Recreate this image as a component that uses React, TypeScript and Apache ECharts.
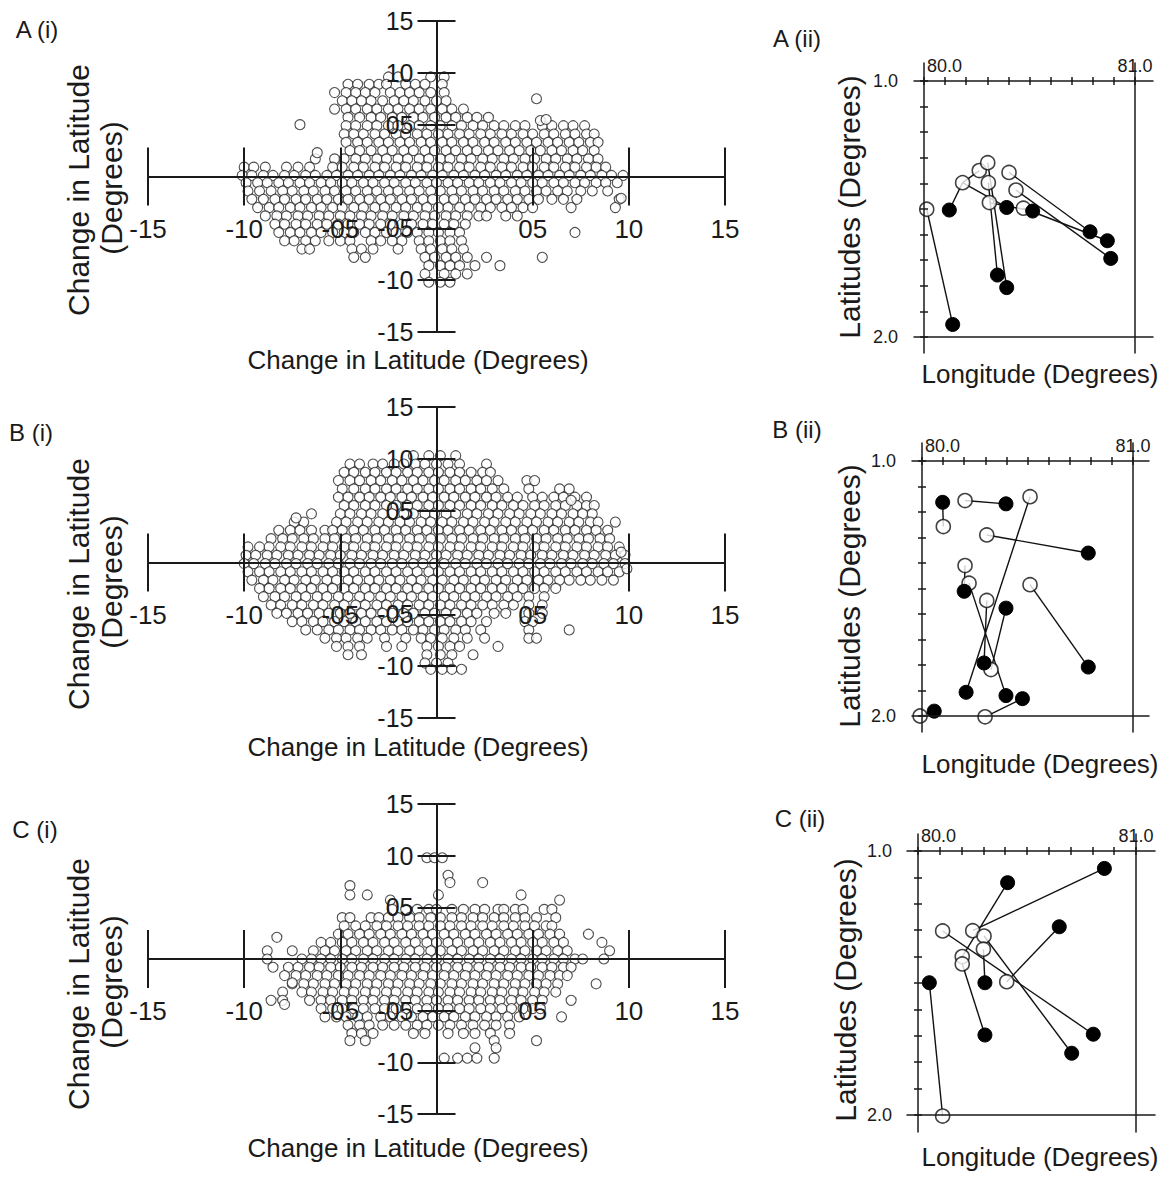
import React, { useEffect, useRef } from 'react';
import * as echarts from 'echarts';

const FONT = '"Liberation Sans", Arial, Helvetica, sans-serif';
const INK = '#1a1a1a';

// ---- tick labels ----
const DELTA_TICKS = [-15, -10, -5, 5, 10, 15];
const DELTA_LABELS = ['-15', '-10', '-05', '05', '10', '15'];
const LON_TICKS = [80.0, 80.1, 80.2, 80.3, 80.4, 80.5, 80.6, 80.7, 80.8, 80.9, 81.0];
const LAT_TICKS = [1.0, 1.1, 1.2, 1.3, 1.4, 1.5, 1.6, 1.7, 1.8, 1.9, 2.0];
const LON_LABELS = [80.0, 81.0];
const LAT_LABELS = [1.0, 2.0];

// ---- scatter clouds: each row = [y, x, x, x, ...] (axis units) ----
const A_ROWS: number[][] = [
  [9.6, -2.5, -2.0, -0.3, 0.4],
  [8.9, -4.6, -4.1, -3.5, -3.0, -2.6, -1.6, -1.1, -0.6, 0.3],
  [8.1, -5.3, -4.7, -4.2, -3.7, -3.2, -2.4, -1.9, -1.4, -0.9, -0.3, 0.4],
  [7.3, -4.9, -4.4, -3.9, -3.4, -2.8, -2.2, -1.7, -1.2, -0.6, 0.0, 0.5],
  [6.5, -5.3, -4.7, -4.2, -3.6, -3.1, -2.5, -2.0, -1.4, -0.9, -0.3, 0.3, 0.8, 1.4],
  [5.7, -4.6, -4.0, -3.4, -2.9, -2.3, -1.8, -1.2, -0.7, -0.1, 0.5, 1.0, 1.6, 2.1, 2.7],
  [4.9, -4.7, -4.2, -3.6, -3.1, -2.5, -2.0, -1.4, -0.9, -0.3, 0.2, 0.8, 1.3, 1.9, 2.4, 3.0, 3.5, 4.1, 4.6, 5.5, 6.0, 6.6, 7.1, 7.7],
  [4.1, -4.8, -4.3, -3.8, -3.2, -2.7, -2.1, -1.6, -1.0, -0.5, 0.1, 0.6, 1.2, 1.7, 2.3, 2.8, 3.4, 3.9, 4.5, 5.0, 5.6, 6.1, 6.7, 7.2, 7.8, 8.2],
  [3.3, -4.7, -4.1, -3.6, -3.0, -2.5, -1.9, -1.4, -0.8, -0.3, 0.3, 0.8, 1.4, 1.9, 2.5, 3.0, 3.6, 4.1, 4.7, 5.2, 5.8, 6.3, 6.9, 7.4, 8.0, 8.4],
  [2.5, -4.5, -4.0, -3.4, -2.8, -2.3, -1.7, -1.2, -0.6, -0.1, 0.5, 1.0, 1.6, 2.1, 2.7, 3.2, 3.8, 4.3, 4.9, 5.4, 6.0, 6.5, 7.1, 7.6, 8.2],
  [1.7, -6.3, -5.3, -4.8, -4.2, -3.7, -3.1, -2.6, -2.0, -1.5, -0.9, -0.4, 0.2, 0.7, 1.3, 1.8, 2.4, 2.9, 3.5, 4.0, 4.6, 5.1, 5.7, 6.2, 6.8, 7.3, 7.9, 8.4],
  [0.9, -10.0, -9.5, -8.9, -7.8, -7.2, -6.6, -5.4, -4.9, -4.3, -3.8, -3.2, -2.7, -2.1, -1.6, -1.0, -0.5, 0.1, 0.6, 1.2, 1.7, 2.3, 2.8, 3.4, 3.9, 4.5, 5.0, 5.6, 6.1, 6.7, 7.2, 7.8, 8.3, 8.8],
  [0.1, -10.1, -9.6, -9.0, -8.5, -7.9, -7.4, -6.8, -6.3, -5.7, -5.2, -4.6, -4.1, -3.5, -3.0, -2.4, -1.9, -1.3, -0.8, -0.2, 0.3, 0.9, 1.4, 2.0, 2.5, 3.1, 3.6, 4.2, 4.7, 5.3, 5.8, 6.4, 6.9, 7.5, 8.0, 8.6, 9.1, 9.7],
  [-0.6, -9.9, -9.3, -8.8, -8.2, -7.7, -7.1, -6.6, -6.0, -5.5, -4.9, -4.4, -3.8, -3.3, -2.7, -2.2, -1.6, -1.1, -0.5, 0.0, 0.6, 1.1, 1.7, 2.2, 2.8, 3.3, 3.9, 4.4, 5.0, 5.5, 6.1, 6.6, 7.2, 7.7, 8.3, 8.8, 9.4],
  [-1.4, -9.8, -9.2, -8.6, -8.0, -7.5, -6.9, -6.4, -5.8, -5.3, -4.7, -4.2, -3.6, -3.1, -2.5, -2.0, -1.4, -0.9, -0.3, 0.2, 0.8, 1.3, 1.9, 2.4, 3.0, 3.5, 4.1, 4.6, 5.2, 5.7, 6.3, 6.8, 7.5, 8.1, 8.9],
  [-2.2, -9.6, -9.0, -8.4, -7.9, -7.3, -6.8, -6.2, -5.7, -5.1, -4.6, -4.0, -3.5, -2.9, -2.4, -1.8, -1.3, -0.7, -0.2, 0.4, 0.9, 1.5, 2.0, 2.6, 3.1, 3.7, 4.2, 4.8, 5.3, 6.0, 6.6, 7.3, 9.5],
  [-3.0, -9.3, -8.7, -8.2, -7.6, -7.1, -6.5, -6.0, -5.4, -4.9, -4.3, -3.8, -3.2, -2.7, -2.1, -1.6, -1.0, -0.5, 0.1, 0.6, 1.2, 1.7, 2.3, 2.8, 3.4, 3.9, 4.5, 5.0, 7.0, 9.3],
  [-3.8, -8.9, -8.3, -7.8, -7.2, -6.7, -6.1, -5.6, -5.0, -4.5, -3.9, -3.4, -2.8, -2.3, -1.7, -1.2, -0.6, -0.1, 0.5, 1.0, 1.6, 2.2, 2.6, 3.6, 4.2],
  [-4.6, -8.4, -7.9, -7.3, -6.8, -6.2, -5.7, -5.1, -4.6, -4.0, -3.5, -2.9, -2.4, -1.8, -1.3, -0.7, -0.2, 0.4, 0.9, 1.5],
  [-5.4, -8.2, -7.6, -7.1, -6.5, -6.0, -5.4, -4.8, -4.3, -3.7, -3.2, -2.6, -2.1, -1.5, -1.0, -0.4, 0.1, 0.7, 1.2, 7.2],
  [-6.2, -7.9, -7.4, -6.8, -6.3, -5.6, -5.0, -4.5, -3.4, -2.9, -2.3, -1.8, -0.9, -0.4, 0.2, 0.7, 1.3],
  [-7.0, -7.0, -6.6, -4.4, -3.9, -3.3, -2.0, -0.8, -0.3, 0.3, 0.8, 1.4],
  [-7.8, -4.3, -3.7, -0.6, -0.1, 0.5, 1.0, 1.6, 2.6, 5.5],
  [-8.6, -0.4, 0.2, 0.7, 1.2, 2.0, 3.3],
  [-9.4, -0.6, 0.4, 1.0, 1.6],
  [-10.2, -0.4, 0.2, 0.7],
];
const A_SINGLES: number[][] = [[-7.1, 5.0], [5.2, 7.5], [5.4, 5.4], [5.7, 5.5], [9.6, -2.1], [-6.2, 2.3]];

const B_ROWS: number[][] = [
  [10.3, -1.2, -0.4, 0.2, 1.0],
  [9.5, -4.5, -4.0, -3.3, -2.8, -2.2, -1.7, -1.1, -0.6, 0.0, 0.6, 1.2, 2.6],
  [8.7, -4.8, -4.3, -3.7, -3.2, -2.6, -2.1, -1.5, -1.0, -0.4, 0.1, 0.7, 1.2, 1.8, 2.4, 2.8],
  [7.9, -5.1, -4.5, -4.0, -3.4, -2.9, -2.3, -1.8, -1.2, -0.7, -0.1, 0.4, 1.0, 1.5, 2.1, 2.6, 3.2, 4.7, 5.1],
  [7.1, -4.9, -4.3, -3.7, -3.2, -2.6, -2.1, -1.5, -1.0, -0.4, 0.1, 0.7, 1.2, 1.8, 2.3, 2.9, 3.5, 4.8, 6.4, 6.9],
  [6.3, -5.1, -4.6, -4.0, -3.5, -2.9, -2.4, -1.8, -1.3, -0.7, -0.2, 0.4, 0.9, 1.5, 2.0, 2.6, 3.1, 3.7, 4.2, 5.0, 5.5, 6.1, 6.6, 7.2, 7.8],
  [5.5, -4.8, -4.3, -3.7, -3.2, -2.6, -2.1, -1.5, -1.0, -0.4, 0.1, 0.7, 1.2, 1.8, 2.3, 2.9, 3.4, 4.0, 4.5, 5.1, 5.6, 6.2, 6.7, 7.3, 7.8, 8.2],
  [4.7, -5.0, -4.5, -3.9, -3.4, -2.8, -2.3, -1.7, -1.2, -0.6, -0.1, 0.5, 1.0, 1.6, 2.1, 2.7, 3.2, 3.8, 4.3, 4.9, 5.4, 6.0, 6.5, 7.1, 7.6, 8.1],
  [3.9, -7.4, -6.9, -5.2, -4.7, -4.1, -3.6, -3.0, -2.5, -1.9, -1.4, -0.8, -0.3, 0.3, 0.8, 1.4, 1.9, 2.5, 3.0, 3.6, 4.1, 4.7, 5.2, 5.8, 6.3, 6.9, 7.4, 8.0, 8.4, 9.3],
  [3.1, -8.2, -7.6, -7.1, -6.5, -5.8, -5.4, -4.9, -4.3, -3.8, -3.2, -2.7, -2.1, -1.6, -1.0, -0.5, 0.1, 0.6, 1.2, 1.7, 2.3, 2.8, 3.4, 3.9, 4.5, 5.0, 5.6, 6.1, 6.7, 7.2, 7.8, 8.3, 8.9],
  [2.3, -8.6, -8.0, -7.5, -6.9, -6.4, -5.8, -5.3, -4.7, -4.2, -3.6, -3.1, -2.5, -2.0, -1.4, -0.9, -0.3, 0.2, 0.8, 1.3, 1.9, 2.4, 3.0, 3.5, 4.1, 4.6, 5.2, 5.7, 6.3, 6.8, 7.4, 7.9, 8.5, 9.0],
  [1.5, -9.8, -9.2, -8.7, -8.1, -7.6, -7.0, -6.5, -5.9, -5.4, -4.8, -4.3, -3.7, -3.2, -2.6, -2.1, -1.5, -1.0, -0.4, 0.1, 0.7, 1.2, 1.8, 2.3, 2.9, 3.4, 4.0, 4.5, 5.1, 5.6, 6.2, 6.7, 7.3, 7.8, 8.4, 8.9, 9.5],
  [0.7, -9.9, -9.4, -8.8, -8.3, -7.7, -7.2, -6.6, -6.1, -5.5, -5.0, -4.4, -3.9, -3.3, -2.8, -2.2, -1.7, -1.1, -0.6, 0.0, 0.5, 1.1, 1.6, 2.2, 2.7, 3.3, 3.8, 4.4, 4.9, 5.5, 6.0, 6.6, 7.1, 7.7, 8.2, 8.8, 9.3, 9.8],
  [-0.1, -10.0, -9.5, -8.9, -8.4, -7.8, -7.3, -6.7, -6.2, -5.6, -5.1, -4.5, -4.0, -3.4, -2.9, -2.3, -1.8, -1.2, -0.7, -0.1, 0.4, 1.0, 1.5, 2.1, 2.6, 3.2, 3.7, 4.3, 4.8, 5.4, 5.9, 6.5, 7.0, 7.6, 8.1, 8.7, 9.2, 9.8],
  [-0.9, -9.8, -9.2, -8.7, -8.1, -7.6, -7.0, -6.5, -5.9, -5.4, -4.8, -4.3, -3.7, -3.2, -2.6, -2.1, -1.5, -1.0, -0.4, 0.1, 0.7, 1.2, 1.8, 2.3, 2.9, 3.4, 4.0, 4.5, 5.1, 5.6, 6.2, 6.7, 7.3, 7.8, 8.4, 8.9, 9.5],
  [-1.7, -9.6, -9.0, -8.5, -7.9, -7.4, -6.8, -6.3, -5.7, -5.2, -4.6, -4.1, -3.5, -3.0, -2.4, -1.9, -1.3, -0.8, -0.2, 0.3, 0.9, 1.4, 2.0, 2.5, 3.1, 3.6, 4.2, 4.7, 5.3, 5.8, 6.4, 6.9, 7.5, 8.0, 8.6, 9.2],
  [-2.5, -9.2, -8.7, -8.1, -7.6, -7.0, -6.5, -5.9, -5.4, -4.8, -4.3, -3.7, -3.2, -2.6, -2.1, -1.5, -1.0, -0.4, 0.1, 0.7, 1.2, 1.8, 2.3, 2.9, 3.4, 4.0, 4.5, 5.1, 5.6, 6.2],
  [-3.3, -9.0, -8.4, -7.9, -7.3, -6.8, -6.2, -5.7, -5.1, -4.6, -4.0, -3.5, -2.9, -2.4, -1.8, -1.3, -0.7, -0.2, 0.4, 0.9, 1.5, 2.0, 2.6, 3.1, 3.7, 4.2, 4.8, 5.6],
  [-4.1, -8.6, -8.1, -7.5, -7.0, -6.4, -5.9, -5.3, -4.8, -4.2, -3.7, -3.1, -2.6, -2.0, -1.5, -0.9, -0.4, 0.2, 0.7, 1.3, 1.8, 2.4, 2.9, 3.5, 4.0, 4.8, 5.5],
  [-4.9, -8.3, -7.8, -7.2, -6.7, -6.1, -5.6, -5.0, -4.5, -3.9, -3.4, -2.8, -2.3, -1.7, -1.2, -0.6, -0.1, 0.5, 1.0, 1.6, 2.1, 3.0, 3.6, 4.8, 5.5],
  [-5.7, -7.5, -7.0, -6.4, -5.9, -5.3, -4.8, -4.2, -3.7, -3.1, -2.6, -2.0, -1.5, -0.9, -0.4, 0.2, 0.7, 1.3, 1.8, 2.6, 4.6, 5.0],
  [-6.5, -6.8, -6.2, -5.6, -5.1, -4.5, -4.0, -3.4, -2.9, -2.3, -1.8, -1.2, -0.7, -0.1, 0.4, 1.0, 1.5, 2.3, 4.8, 6.9],
  [-7.3, -5.8, -5.2, -4.7, -4.1, -3.6, -2.7, -1.6, -0.8, -0.3, 0.3, 0.9, 1.6, 2.5, 4.8, 5.2],
  [-8.1, -5.2, -4.6, -4.0, -2.6, -1.8, -0.5, 0.1, 0.7, 1.2, 3.2],
  [-8.9, -4.6, -3.9, -0.5, 0.2, 0.8, 1.9],
  [-9.7, -0.6, 0.0, 0.6],
  [-10.3, -0.3, 0.3, 0.8, 1.3],
];
const B_SINGLES: number[][] = [[-7.3, 4.3], [-6.5, 4.7], [9.6, 1.0], [9.9, -0.6], [7.0, 6.0]];

const C_ROWS: number[][] = [
  [9.8, -0.5, -0.1, 0.3],
  [8.1, 0.6],
  [7.4, 0.7, 2.4],
  [7.1, -4.5],
  [6.2, -4.5, -3.6, 0.1, 4.4],
  [5.7, -2.4, 6.4],
  [4.8, -2.3, -1.6, -1.0, -0.4, 0.0, 0.8, 1.4, 2.0, 2.5, 3.2, 3.5, 4.1, 4.5, 5.6, 6.0],
  [4.0, -4.9, -4.5, -3.4, -3.0, -2.5, -2.0, -1.4, -0.9, -0.3, 0.2, 0.8, 1.3, 1.9, 2.4, 3.0, 3.5, 4.1, 4.6, 5.2, 6.2],
  [3.2, -4.8, -4.2, -3.7, -3.1, -2.6, -2.0, -1.5, -0.9, -0.4, 0.2, 0.7, 1.3, 1.8, 2.4, 2.9, 3.5, 4.0, 4.6, 5.1, 5.7, 6.0],
  [2.4, -5.1, -4.6, -4.0, -3.5, -2.9, -2.4, -1.8, -1.3, -0.7, -0.2, 0.4, 0.9, 1.5, 2.0, 2.6, 3.1, 3.7, 4.2, 4.8, 5.3, 5.9, 6.4, 7.9],
  [1.6, -6.0, -5.5, -4.9, -4.4, -3.8, -3.3, -2.7, -2.2, -1.6, -1.1, -0.5, 0.0, 0.6, 1.1, 1.7, 2.2, 2.8, 3.3, 3.9, 4.4, 5.0, 5.5, 6.1, 6.6, 8.6],
  [0.8, -8.8, -7.5, -6.4, -5.8, -5.3, -4.7, -4.2, -3.6, -3.1, -2.5, -2.0, -1.4, -0.9, -0.3, 0.2, 0.8, 1.3, 1.9, 2.4, 3.0, 3.5, 4.1, 4.6, 5.2, 5.7, 6.3, 6.8, 9.0],
  [0.0, -8.8, -7.0, -6.5, -6.0, -5.5, -4.9, -4.4, -3.8, -3.3, -2.7, -2.2, -1.6, -1.1, -0.5, 0.0, 0.6, 1.1, 1.7, 2.2, 2.8, 3.3, 3.9, 4.4, 5.0, 5.5, 6.1, 6.6, 7.2, 7.6, 8.7],
  [-0.8, -8.5, -7.7, -7.2, -6.6, -6.1, -5.5, -5.0, -4.4, -3.9, -3.3, -2.8, -2.2, -1.7, -1.1, -0.6, 0.0, 0.5, 1.1, 1.6, 2.2, 2.7, 3.3, 3.8, 4.4, 4.9, 5.5, 6.0, 6.6, 7.0],
  [-1.6, -7.9, -7.3, -6.8, -6.2, -5.7, -5.1, -4.6, -4.0, -3.5, -2.9, -2.4, -1.8, -1.3, -0.7, -0.2, 0.4, 0.9, 1.5, 2.0, 2.6, 3.1, 3.7, 4.2, 4.8, 5.3, 5.9, 6.4, 6.8],
  [-2.4, -7.5, -6.9, -6.4, -5.8, -5.3, -4.7, -4.2, -3.6, -3.1, -2.5, -2.0, -1.4, -0.9, -0.3, 0.2, 0.8, 1.3, 1.9, 2.4, 3.0, 3.5, 4.1, 4.6, 5.2, 5.7, 6.3, 8.3],
  [-3.2, -8.0, -7.0, -6.5, -5.9, -5.4, -4.8, -4.3, -3.7, -3.2, -2.6, -2.1, -1.5, -1.0, -0.4, 0.1, 0.7, 1.2, 1.8, 2.3, 2.9, 3.4, 4.0, 4.5, 5.1, 5.6, 6.2],
  [-4.0, -8.6, -8.0, -6.6, -6.0, -5.5, -4.9, -4.4, -3.8, -3.3, -2.7, -2.2, -1.6, -1.1, -0.5, 0.0, 0.6, 1.1, 1.7, 2.2, 2.8, 3.3, 3.9, 4.4, 5.0, 5.5, 7.0],
  [-4.8, -6.0, -5.4, -4.9, -4.3, -3.8, -3.2, -2.7, -2.1, -1.6, -1.0, -0.5, 0.1, 0.6, 1.2, 1.7, 2.3, 2.8, 3.4, 3.9, 4.5, 5.0, 5.4],
  [-5.6, -5.8, -5.2, -4.7, -4.1, -3.6, -2.9, -2.4, -1.8, -1.3, -0.7, -0.2, 0.4, 0.9, 1.5, 2.0, 2.6, 3.1, 3.7, 4.3, 6.5],
  [-6.4, -4.6, -4.0, -3.5, -2.8, -2.2, -1.6, -1.0, -0.5, 0.1, 0.7, 1.3, 1.9, 2.5, 3.1, 3.8],
  [-7.2, -4.4, -3.9, -3.3, -1.2, -0.6, 0.6, 1.4, 2.0, 2.8, 3.8],
  [-7.9, -4.5, -3.7, 3.0, 5.2],
  [-8.6, 2.0, 3.1],
  [-9.6, 0.4, 1.1, 1.6, 2.1, 3.0],
];
const C_SINGLES: number[][] = [[-7.5, -2.3], [-7.9, -4.4], [-8.3, 2.1]];

// ---- trajectory panels: [longitude, latitude] ----
const A_OPEN = [[80.013, 1.501], [80.183, 1.397], [80.262, 1.350], [80.302, 1.319], [80.305, 1.397], [80.310, 1.475], [80.403, 1.357], [80.436, 1.426], [80.471, 1.497]];
const A_FILLED = [[80.120, 1.504], [80.392, 1.494], [80.515, 1.508], [80.787, 1.589], [80.869, 1.624], [80.885, 1.693], [80.348, 1.758], [80.392, 1.807], [80.136, 1.951]];
const A_LINKS = [['o0', 'f8'], ['f0', 'o1'], ['o1', 'o2'], ['o1', 'f1'], ['o3', 'f7'], ['o4', 'f6'], ['o5', 'f2'], ['o6', 'f3'], ['o7', 'f5'], ['o8', 'f4']];

const B_OPEN = [[80.101, 1.257], [80.204, 1.155], [80.512, 1.140], [80.307, 1.290], [80.204, 1.410], [80.223, 1.479], [80.512, 1.485], [80.307, 1.547], [80.327, 1.818], [79.991, 2.000], [80.299, 2.003]];
const B_FILLED = [[80.098, 1.162], [80.398, 1.168], [80.788, 1.361], [80.200, 1.511], [80.398, 1.577], [80.294, 1.792], [80.788, 1.808], [80.209, 1.907], [80.398, 1.920], [80.476, 1.932], [80.058, 1.981]];
const B_LINKS = [['f0', 'o0'], ['o1', 'f1'], ['o2', 'f7'], ['o3', 'f2'], ['o4', 'f3'], ['o5', 'f8'], ['o7', 'f5'], ['f4', 'o8'], ['o6', 'f6'], ['o10', 'f9'], ['o9', 'f10']];

const C_OPEN = [[80.113, 1.303], [80.251, 1.302], [80.303, 1.322], [80.300, 1.372], [80.203, 1.400], [80.203, 1.428], [80.407, 1.495], [80.113, 2.004]];
const C_FILLED = [[80.855, 1.066], [80.411, 1.120], [80.648, 1.287], [80.052, 1.499], [80.307, 1.499], [80.307, 1.697], [80.804, 1.694], [80.705, 1.766]];
const C_LINKS = [['f3', 'o7'], ['o1', 'f0'], ['o4', 'f1'], ['o0', 'f6'], ['o6', 'f2'], ['o2', 'f7'], ['o3', 'f4'], ['o5', 'f5']];

// ---- layout (pixels) ----
const LEFT_X = 148;
const LEFT_W = 577;
const LEFT_PANELS = [
  { top: 21, height: 311, label: 'A (i)', lx: 37, ly: 29, titleY: 360, sideY: 190 },
  { top: 407, height: 311, label: 'B (i)', lx: 31, ly: 432, titleY: 747, sideY: 584 },
  { top: 804, height: 310, label: 'C (i)', lx: 35, ly: 829, titleY: 1148, sideY: 984 },
];
const RIGHT_PANELS = [
  { x0: 924, x1: 1135, y0: 81, y1: 337, eL: 10, eR: 18, eT: 18, eB: 16, label: 'A (ii)', lx: 797, ly: 38, sideX: 849, sideY: 207, titleY: 374 },
  { x0: 922, x1: 1133, y0: 461, y1: 716, eL: 10, eR: 16, eT: 18, eB: 16, label: 'B (ii)', lx: 797, ly: 429, sideX: 849, sideY: 596, titleY: 764 },
  { x0: 918, x1: 1136, y0: 851, y1: 1115, eL: 11, eR: 19, eT: 17, eB: 17, label: 'C (ii)', lx: 800, ly: 818, sideX: 845, sideY: 990, titleY: 1157 },
];

function buildCloud(rows: number[][], singles: number[][]) {
  const pts: number[][] = [];
  rows.forEach((r) => {
    for (let i = 1; i < r.length; i++) pts.push([r[i], r[0]]);
  });
  singles.forEach((s) => pts.push([s[0], s[1]]));
  return pts;
}

const CLOUDS = [buildCloud(A_ROWS, A_SINGLES), buildCloud(B_ROWS, B_SINGLES), buildCloud(C_ROWS, C_SINGLES)];
const TRACKS = [
  { open: A_OPEN, filled: A_FILLED, links: A_LINKS },
  { open: B_OPEN, filled: B_FILLED, links: B_LINKS },
  { open: C_OPEN, filled: C_FILLED, links: C_LINKS },
];

function text(x: number, y: number, str: string, size: number, rotate = false) {
  return {
    type: 'text',
    x,
    y,
    rotation: rotate ? Math.PI / 2 : 0,
    z: 20,
    style: { text: str, fontSize: size, fontFamily: FONT, fill: INK, align: 'center', verticalAlign: 'middle' },
  };
}

function buildOption() {
  const grid: any[] = [];
  const xAxis: any[] = [];
  const yAxis: any[] = [];
  const series: any[] = [];
  const graphic: any[] = [];
  const line = { color: INK, width: 2 };
  const deltaFmt = (v: number) => {
    const k = DELTA_TICKS.indexOf(v);
    return k < 0 ? '' : DELTA_LABELS[k];
  };

  LEFT_PANELS.forEach((p, i) => {
    const g = grid.length;
    grid.push({ left: LEFT_X, width: LEFT_W, top: p.top, height: p.height });
    const xi = xAxis.length;
    const yi = yAxis.length;
    const xOff = -p.height / 2; // x axis drawn through the middle of the grid
    const yOff = -LEFT_W / 2; // y axis drawn through the middle of the grid
    const base = { gridIndex: g, type: 'value', min: -15, max: 15, interval: 5, z: 10, splitLine: { show: false } };
    xAxis.push({
      ...base, position: 'bottom', offset: xOff,
      axisLine: { onZero: false, lineStyle: line },
      axisTick: { length: 29, lineStyle: line },
      axisLabel: { margin: 39, fontSize: 26, fontFamily: FONT, color: INK, formatter: deltaFmt },
    });
    xAxis.push({
      ...base, position: 'bottom', offset: xOff,
      axisLine: { onZero: false, show: false },
      axisTick: { inside: true, length: 29, lineStyle: line },
      axisLabel: { show: false },
    });
    yAxis.push({
      ...base, position: 'left', offset: yOff,
      axisLine: { onZero: false, lineStyle: line },
      axisTick: { length: 19, lineStyle: line },
      axisLabel: { margin: 23, fontSize: 25, fontFamily: FONT, color: INK, formatter: deltaFmt },
    });
    yAxis.push({
      ...base, position: 'left', offset: yOff,
      axisLine: { onZero: false, show: false },
      axisTick: { inside: true, length: 19, lineStyle: line },
      axisLabel: { show: false },
    });
    series.push({
      type: 'scatter', xAxisIndex: xi, yAxisIndex: yi, data: CLOUDS[i], symbol: 'circle', symbolSize: 10,
      itemStyle: { color: '#ffffff', borderColor: '#222222', borderWidth: 1.1 }, silent: true, z: 2,
    });
    graphic.push(text(p.lx, p.ly, p.label, 24));
    graphic.push(text(418, p.titleY, 'Change in Latitude (Degrees)', 26));
    graphic.push(text(78, p.sideY, 'Change in Latitude', 30, true));
    graphic.push(text(111, p.sideY - 2, '(Degrees)', 30, true));
  });

  RIGHT_PANELS.forEach((p, i) => {
    const g = grid.length;
    const pxLon = p.x1 - p.x0;
    const pxLat = p.y1 - p.y0;
    grid.push({ left: p.x0 - p.eL, top: p.y0 - p.eT, width: pxLon + p.eL + p.eR, height: pxLat + p.eT + p.eB });
    const xmin = 80 - p.eL / pxLon;
    const xmax = 81 + p.eR / pxLon;
    const ymin = 1 - p.eT / pxLat;
    const ymax = 2 + p.eB / pxLat;
    const thin = { color: INK, width: 1.5 };
    const xb = { gridIndex: g, type: 'value', min: xmin, max: xmax, z: 10, splitLine: { show: false } };
    const yb = { gridIndex: g, type: 'value', min: ymin, max: ymax, inverse: true, z: 10, splitLine: { show: false } };
    const xi = xAxis.length;
    const yi = yAxis.length;
    const lbl = { fontSize: 18, fontFamily: FONT, color: INK, formatter: (v: number) => v.toFixed(1) };
    xAxis.push({
      ...xb, position: 'top', offset: -p.eT,
      axisLine: { onZero: false, lineStyle: thin },
      axisTick: { customValues: LON_TICKS, length: 4, lineStyle: thin },
      axisLabel: { ...lbl, customValues: [LON_LABELS[0]], align: 'left', margin: 6, padding: [0, 0, 0, 3] },
    });
    xAxis.push({
      ...xb, position: 'top', offset: -p.eT,
      axisLine: { onZero: false, show: false },
      axisTick: { customValues: LON_TICKS, inside: true, length: 4, lineStyle: thin },
      axisLabel: { ...lbl, customValues: [LON_LABELS[1]], align: 'center', margin: 6 },
    });
    xAxis.push({
      ...xb, position: 'bottom', offset: -p.eB,
      axisLine: { onZero: false, lineStyle: thin },
      axisTick: { show: false }, axisLabel: { show: false },
    });
    yAxis.push({
      ...yb, position: 'left', offset: -p.eL,
      axisLine: { onZero: false, lineStyle: thin },
      axisTick: { customValues: LAT_TICKS, length: 4, lineStyle: thin },
      axisLabel: { ...lbl, customValues: LAT_LABELS, margin: 26 },
    });
    yAxis.push({
      ...yb, position: 'left', offset: -p.eL,
      axisLine: { onZero: false, show: false },
      axisTick: { customValues: LAT_TICKS, inside: true, length: 4, lineStyle: thin },
      axisLabel: { show: false },
    });
    yAxis.push({
      ...yb, position: 'right', offset: -p.eR,
      axisLine: { onZero: false, lineStyle: thin },
      axisTick: { show: false }, axisLabel: { show: false },
    });
    const t = TRACKS[i];
    const pick = (key: string) => (key[0] === 'o' ? t.open : t.filled)[Number(key.slice(1))];
    series.push({
      type: 'lines', coordinateSystem: 'cartesian2d', xAxisIndex: xi, yAxisIndex: yi, silent: true, z: 3,
      lineStyle: { color: '#111111', width: 1.4, opacity: 1 },
      data: t.links.map((l) => ({ coords: [pick(l[0]), pick(l[1])] })),
    });
    series.push({
      type: 'scatter', xAxisIndex: xi, yAxisIndex: yi, data: t.open, symbolSize: 14, silent: true, z: 4,
      itemStyle: { color: '#ffffff', borderColor: '#111111', borderWidth: 1.6 },
    });
    series.push({
      type: 'scatter', xAxisIndex: xi, yAxisIndex: yi, data: t.filled, symbolSize: 14, silent: true, z: 5,
      itemStyle: { color: '#000000', borderColor: '#000000', borderWidth: 1, opacity: 1 },
    });
    graphic.push(text(p.lx, p.ly, p.label, 24));
    graphic.push(text(p.sideX, p.sideY, 'Latitudes (Degrees)', 30, true));
    graphic.push(text(1040, p.titleY, 'Longitude (Degrees)', 26));
  });

  return {
    animation: false,
    backgroundColor: '#ffffff',
    textStyle: { fontFamily: FONT },
    grid,
    xAxis,
    yAxis,
    series,
    graphic,
  };
}

export default function App() {
  const ref = useRef<HTMLDivElement>(null);
  useEffect(() => {
    if (!ref.current) return;
    const chart = echarts.init(ref.current, undefined, { renderer: 'svg' });
    chart.setOption(buildOption() as any);
    return () => chart.dispose();
  }, []);
  return <div ref={ref} style={{ position: 'absolute', left: 0, top: 0, width: 1164, height: 1178, background: '#fff' }} />;
}
